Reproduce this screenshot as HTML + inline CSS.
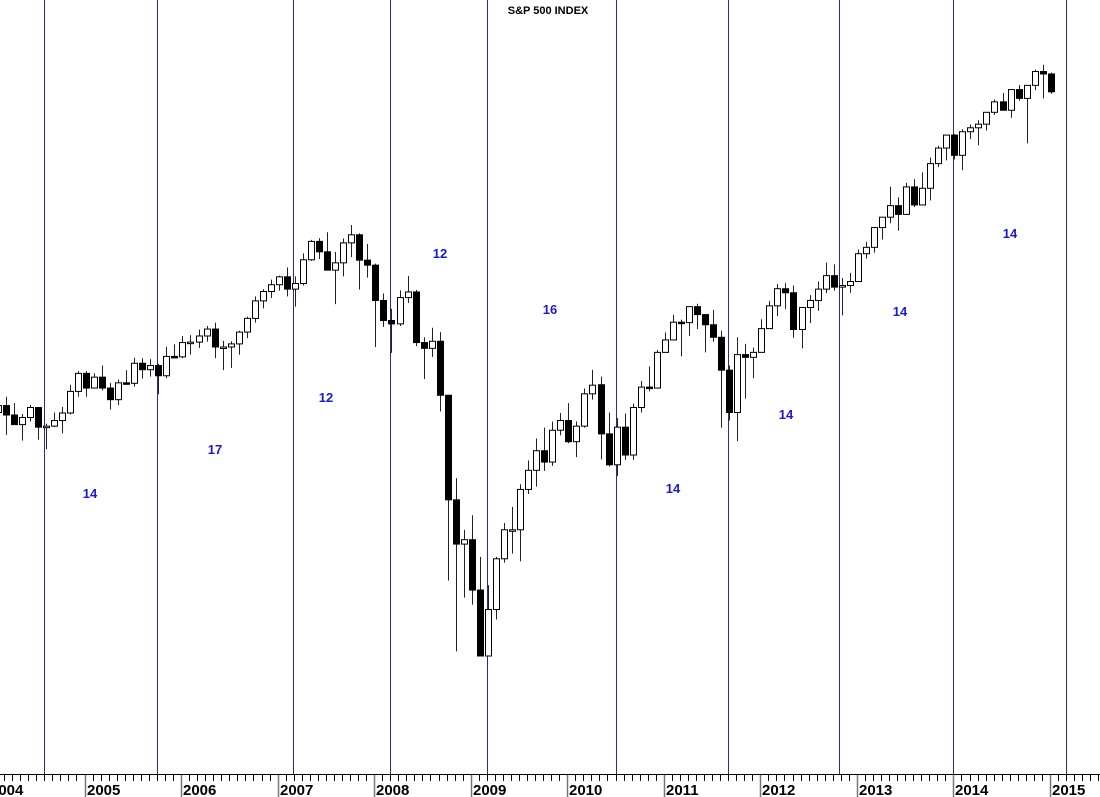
<!DOCTYPE html>
<html><head><meta charset="utf-8"><style>
html,body{margin:0;padding:0;background:#fff;}
svg{display:block;font-family:"Liberation Sans",Arial,sans-serif;}
</style></head><body>
<svg id="c" width="1100" height="797" viewBox="0 0 1100 797" xmlns="http://www.w3.org/2000/svg">
<rect width="1100" height="797" fill="#fff"/>
<text x="548" y="14" font-size="11" font-weight="bold" text-anchor="middle" fill="#000">S&amp;P 500 INDEX</text>
<g id="vl"></g><g id="cd"></g><g id="ax"></g>
<g fill="#1a1ad0" font-size="13" font-weight="bold" text-anchor="middle">
<text x="90" y="498">14</text><text x="215" y="454">17</text><text x="326" y="402">12</text>
<text x="440" y="258">12</text><text x="550" y="314">16</text><text x="673" y="493">14</text>
<text x="786" y="419">14</text><text x="900" y="316">14</text><text x="1010" y="238">14</text>
</g>
</svg>
<script>
var D=[
[1112,1155,1105,1131],[1131,1158,1124,1145],[1145,1163,1087,1126],[1126,1150,1107,1107],[1107,1128,1076,1121],[1121,1146,1113,1141],[1141,1141,1078,1102],[1102,1109,1060,1104],[1104,1131,1102,1115],[1115,1142,1090,1130],[1130,1188,1127,1174],[1174,1217,1163,1212],
[1212,1217,1163,1181],[1181,1212,1180,1204],[1204,1229,1176,1181],[1181,1192,1137,1157],[1157,1199,1146,1192],[1192,1219,1188,1191],[1191,1246,1184,1234],[1234,1245,1201,1220],[1220,1243,1205,1229],[1229,1233,1168,1207],[1207,1270,1202,1249],[1249,1276,1246,1248],
[1248,1295,1245,1280],[1280,1297,1253,1281],[1281,1310,1268,1295],[1295,1318,1282,1311],[1311,1326,1245,1270],[1270,1284,1219,1270],[1270,1283,1224,1277],[1277,1307,1253,1304],[1304,1340,1290,1336],[1336,1389,1326,1378],[1378,1407,1360,1401],[1401,1431,1385,1418],
[1418,1441,1403,1438],[1438,1462,1389,1407],[1407,1439,1364,1421],[1421,1499,1416,1482],[1482,1535,1479,1531],[1531,1540,1484,1503],[1503,1556,1454,1455],[1455,1503,1370,1474],[1474,1539,1439,1527],[1527,1576,1489,1549],[1549,1553,1406,1481],[1481,1524,1436,1468],
[1468,1472,1270,1379],[1379,1396,1316,1331],[1331,1359,1257,1323],[1323,1404,1318,1386],[1386,1440,1373,1400],[1400,1405,1272,1280],[1280,1292,1200,1267],[1267,1314,1248,1283],[1283,1304,1133,1166],[1166,1167,840,969],[969,1007,741,896],[896,919,815,903],
[903,943,805,826],[826,876,735,735],[735,833,735,798],[798,876,784,873],[873,930,867,919],[919,957,881,919],[919,996,869,987],[987,1039,979,1021],[1021,1080,992,1057],[1057,1101,1020,1036],[1036,1113,1029,1096],[1096,1130,1086,1115],
[1115,1150,1071,1074],[1074,1113,1045,1104],[1104,1180,1101,1169],[1169,1220,1157,1187],[1188,1205,1041,1089],[1089,1131,1028,1031],[1031,1120,1011,1102],[1102,1129,1040,1049],[1049,1149,1040,1141],[1141,1196,1131,1183],[1183,1227,1174,1181],[1181,1263,1180,1258],
[1258,1303,1257,1286],[1286,1344,1289,1327],[1327,1333,1249,1326],[1326,1364,1295,1364],[1364,1371,1311,1345],[1345,1345,1258,1321],[1321,1356,1282,1292],[1292,1307,1101,1219],[1219,1229,1115,1131],[1131,1292,1075,1253],[1253,1277,1159,1247],[1247,1269,1202,1258],
[1258,1334,1258,1312],[1312,1378,1312,1366],[1366,1420,1341,1408],[1408,1422,1358,1398],[1398,1416,1291,1310],[1310,1363,1267,1362],[1362,1392,1325,1379],[1379,1426,1354,1407],[1407,1475,1397,1441],[1441,1470,1403,1412],[1412,1435,1343,1416],[1416,1448,1398,1426],
[1426,1509,1426,1498],[1498,1530,1485,1515],[1515,1570,1501,1569],[1569,1597,1536,1598],[1598,1687,1581,1631],[1631,1655,1560,1606],[1606,1698,1605,1686],[1686,1709,1627,1633],[1633,1730,1633,1682],[1682,1776,1646,1757],[1757,1813,1746,1806],[1806,1849,1767,1848],
[1848,1851,1770,1783],[1783,1867,1737,1859],[1859,1883,1835,1872],[1872,1897,1815,1884],[1884,1925,1863,1924],[1924,1968,1915,1960],[1960,1991,1930,1931],[1931,2005,1905,2003],[2003,2019,1964,1972],[1972,2018,1821,2018],[2018,2075,2001,2068],[2068,2093,1972,2059],
[2059,2064,1988,1995]];
function Y(v){return 656-565*Math.log(v/735);}
function X(i){return Math.round(-10.5+8.04*i)+0.5;}
var s='';
for(var i=0;i<D.length;i++){var d=D[i],x=X(i),o=Y(d[0]),h=Y(d[1]),l=Y(d[2]),c=Y(d[3]);
 var t=Math.min(o,c),b=Math.max(o,c);if(b-t<1.5){b=t+1.5;}
 s+='<line x1="'+x+'" y1="'+h+'" x2="'+x+'" y2="'+l+'" stroke="#222" stroke-width="1"/>';
 var up=d[3]>=d[0];
 s+='<rect x="'+(x-3)+'" y="'+t+'" width="6" height="'+(b-t)+'" fill="'+(up?'#fff':'#000')+'" stroke="#000" stroke-width="1"/>';}
document.getElementById('cd').innerHTML=s;
var v='',L=[44,157,293,390,487,616,728,839,953,1066];
L.forEach(function(x){v+='<line x1="'+(x+0.5)+'" y1="0" x2="'+(x+0.5)+'" y2="774" stroke="#2828a0" stroke-width="1"/>';});
document.getElementById('vl').innerHTML=v;
var a='<line x1="0" y1="774.5" x2="1100" y2="774.5" stroke="#000" stroke-width="1"/>';
for(var m=-12;m<=140;m++){var x=Math.round(84.5+8.0455*m)+0.5;if(x<0||x>1100)continue;
 if(m%12==0){var yr=2005+m/12;a+='<line x1="'+x+'" y1="775" x2="'+x+'" y2="797" stroke="#777" stroke-width="1.5"/>';
  a+='<text x="'+(x+1.5)+'" y="795" font-size="15" font-weight="bold" fill="#000">'+yr+'</text>';}
 else a+='<line x1="'+x+'" y1="775" x2="'+x+'" y2="781" stroke="#000" stroke-width="1"/>';}
a+='<text x="-10" y="795" font-size="15" font-weight="bold" fill="#000">2004</text>';
document.getElementById('ax').innerHTML=a;
</script>
</body></html>
